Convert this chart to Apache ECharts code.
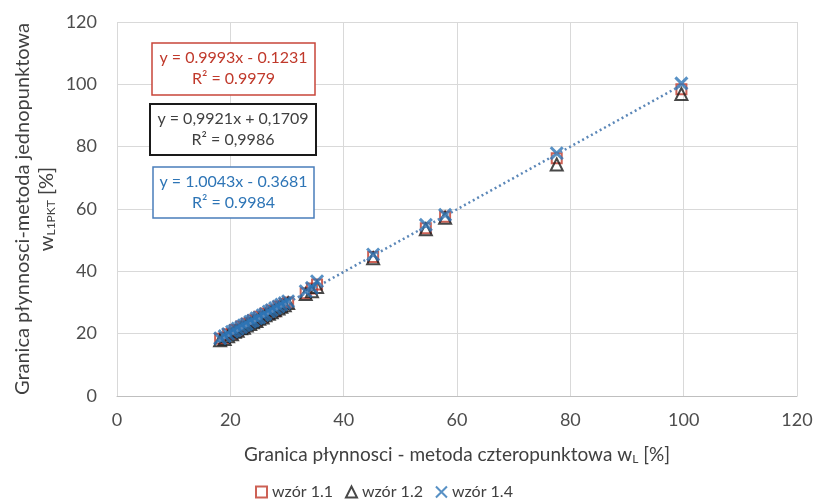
<!DOCTYPE html>
<html lang="pl">
<head>
    <meta charset="UTF-8">
    <script src="https://cdn.jsdelivr.net/npm/echarts@6/dist/echarts.min.js"></script>
    <title>Granica płynnosci</title>
    <style>
        html, body {margin: 0; padding: 0; background: #fff;}
        #main {width: 819px; height: 499px;}
    </style>
</head>
<body>
<div id="main"></div>
<script>
    // metoda czteropunktowa w_L [%]
    var wL = [18.2, 19.0, 19.6, 20.3, 20.8, 21.3, 21.9, 22.4, 22.9, 23.5, 24.0, 24.6, 25.1, 25.7, 26.2,
        26.8, 27.3, 27.9, 28.5, 29.0, 29.6, 30.2, 33.3, 34.4, 35.3, 45.2, 54.5, 57.9, 77.6, 99.6];
    // metoda jednopunktowa w_L1PKT [%]
    var wzor11 = [18.4, 18.6, 19.8, 20.0, 21.2, 21.0, 22.3, 22.1, 23.2, 23.4, 24.3, 24.2, 25.4, 25.3, 26.5,
        26.3, 27.4, 27.2, 28.7, 28.6, 29.5, 30.0, 33.0, 34.5, 35.8, 44.6, 53.8, 57.5, 76.3, 98.4];
    var wzor12 = [17.9, 18.3, 19.2, 19.8, 20.6, 20.9, 21.7, 21.9, 22.6, 23.1, 23.7, 24.1, 24.8, 25.2, 25.9,
        26.4, 26.9, 27.5, 28.1, 28.6, 29.1, 29.8, 32.7, 33.6, 35.0, 44.2, 53.5, 57.2, 74.3, 96.9];
    var wzor14 = [18.5, 19.2, 19.9, 20.6, 21.0, 21.6, 22.1, 22.7, 23.1, 23.8, 24.2, 24.9, 25.2, 25.9, 26.3,
        27.1, 27.6, 28.2, 28.7, 29.3, 29.8, 30.4, 33.6, 34.7, 36.8, 45.4, 54.9, 58.1, 77.9, 100.3];
    // linia trendu (początek i koniec)
    var trendX = [18.0, 99.6];
    var trendY = [17.7, 99.7];

    var seriesNames = ['wzór 1.1', 'wzór 1.2', 'wzór 1.4'];
    var equations = [
        ['y = 0.9993x - 0.1231', 'R² = 0.9979'],
        ['y = 0,9921x + 0,1709', 'R² = 0,9986'],
        ['y = 1.0043x - 0.3681', 'R² = 0.9984']
    ];

    var FONT = 'Lato';

    function pairs(xs, ys) {
        var out = [];
        for (var i = 0; i < xs.length; i++) {
            out.push([xs[i], ys[i]]);
        }
        return out;
    }

    // ramka z równaniem: prostokąt + dwie linie tekstu
    function eqBox(x, y, w, h, lines, color, border, bw) {
        var cx = x + w / 2;
        return [
            {type: 'rect', shape: {x: x, y: y, width: w, height: h}, z: 10,
                style: {fill: '#fff', stroke: border, lineWidth: bw}},
            {type: 'text', x: cx, y: y + 15, z: 11,
                style: {text: lines[0], fill: color, font: '16px ' + FONT, align: 'center', verticalAlign: 'middle'}},
            {type: 'text', x: cx, y: y + 36, z: 11,
                style: {text: lines[1], fill: color, font: '16px ' + FONT, align: 'center', verticalAlign: 'middle'}}
        ];
    }

    var myChart = echarts.init(document.getElementById('main'));
    var axisLabel = {color: '#4d4d4d', fontSize: 18, fontFamily: FONT};
    var option = {
        animation: false,
        backgroundColor: '#fff',
        grid: {left: 117, right: 22, top: 22, bottom: 103},
        xAxis: {
            type: 'value', min: 0, max: 120, interval: 20,
            name: '{t|Granica płynnosci - metoda czteropunktowa w}{s|L}{t| [%]}',
            nameLocation: 'middle', nameGap: 48,
            nameTextStyle: {
                rich: {
                    t: {fontSize: 19, color: '#404040', fontFamily: FONT},
                    s: {fontSize: 12, color: '#404040', fontFamily: FONT, padding: [9, 0, 0, 0]}
                }
            },
            axisLine: {show: true, lineStyle: {color: '#bfbfbf'}},
            axisTick: {show: false},
            axisLabel: Object.assign({margin: 15}, axisLabel),
            splitLine: {lineStyle: {color: '#d9d9d9'}}
        },
        yAxis: {
            type: 'value', min: 0, max: 120, interval: 20,
            name: '{t|Granica płynnosci-metoda jednopunktowa}\n{t|w}{s|L1PKT}{t| [%]}',
            nameLocation: 'middle', nameGap: 58, nameRotate: 90, nameMoveOverlap: false,
            nameTextStyle: {
                lineHeight: 24,
                rich: {
                    t: {fontSize: 20, color: '#404040', fontFamily: FONT, lineHeight: 24},
                    s: {fontSize: 12, color: '#404040', fontFamily: FONT, padding: [9, 0, 0, 0]}
                }
            },
            axisLine: {show: false},
            axisTick: {show: false},
            axisLabel: Object.assign({margin: 20}, axisLabel),
            splitLine: {lineStyle: {color: '#d9d9d9'}}
        },
        legend: {
            top: 479, left: 250,
            itemWidth: 11, itemHeight: 11, itemGap: 12,
            textStyle: {fontSize: 16, color: '#404040', fontFamily: FONT},
            data: seriesNames
        },
        graphic: [].concat(
            eqBox(152, 43, 163, 52, equations[0], '#c0392b', '#c8463a', 1.5),
            eqBox(150, 104, 166, 51, equations[1], '#404040', '#1a1a1a', 2),
            eqBox(153, 167, 161, 51, equations[2], '#2e75b6', '#4a7ebb', 1.5)
        ),
        series: [
            {
                name: seriesNames[0], type: 'scatter', symbol: 'rect', symbolSize: 10,
                data: pairs(wL, wzor11),
                itemStyle: {color: 'rgba(0,0,0,0)', borderColor: '#c0392b', borderWidth: 2}, z: 2
            },
            {
                name: seriesNames[1], type: 'scatter', symbol: 'triangle', symbolSize: 12,
                data: pairs(wL, wzor12),
                itemStyle: {color: 'rgba(0,0,0,0)', borderColor: '#1a1a1a', borderWidth: 2}, z: 3
            },
            {
                name: seriesNames[2], type: 'scatter', symbol: 'path://M0,0L10,10M10,0L0,10', symbolSize: 12,
                data: pairs(wL, wzor14),
                itemStyle: {color: 'rgba(0,0,0,0)', borderColor: '#2e75b6', borderWidth: 3}, z: 4
            },
            {
                type: 'line', data: pairs(trendX, trendY), symbol: 'none', silent: true,
                lineStyle: {color: '#5b87b8', width: 2.5, type: [2, 3]}, z: 5
            }
        ]
    };
    myChart.setOption(option);
</script>
</body>
</html>
